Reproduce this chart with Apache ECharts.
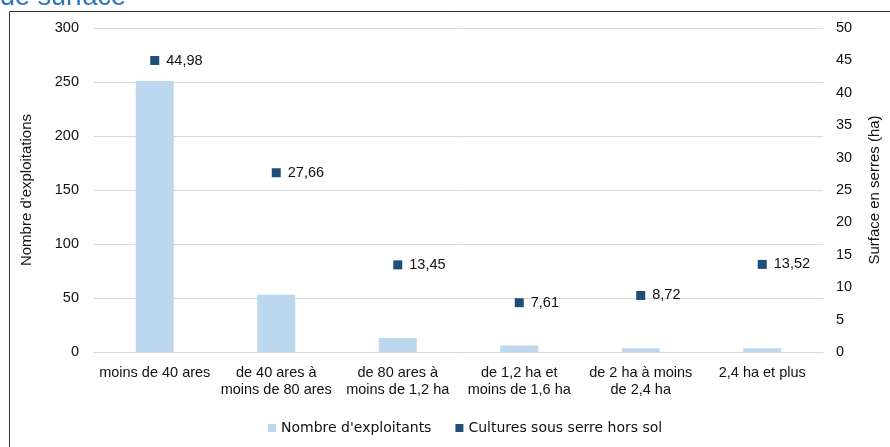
<!DOCTYPE html>
<html><head><meta charset="utf-8">
<script src="https://cdn.jsdelivr.net/npm/echarts@6/dist/echarts.min.js"></script>
<style>html,body{margin:0;padding:0;background:#fff;}#c{width:890px;height:447px;}</style>
</head><body><div id="c"></div>
<script>
const categories = ["moins de 40 ares","de 40 ares à\nmoins de 80 ares","de 80 ares à\nmoins de 1,2 ha","de 1,2 ha et\nmoins de 1,6 ha","de 2 ha à moins\nde 2,4 ha","2,4 ha et plus"];
const exploitants = [251, 53, 13, 6, 3.5, 3.5];
const surface = [44.98, 27.66, 13.45, 7.61, 8.72, 13.52];
const leftTicks = [0,50,100,150,200,250,300];
const rightTicks = [0,5,10,15,20,25,30,35,40,45,50];

const chart = echarts.init(document.getElementById('c'));
const font = 'Liberation Sans, Arial, sans-serif';
const txt = '#111';
chart.setOption({
  animation:false,
  textStyle:{fontFamily:font},
  graphic:[
    {type:'rect',shape:{x:9.5,y:11.5,width:900,height:460},style:{fill:'none',stroke:'#333',lineWidth:1}},
    {type:'text',left:0,top:-16,style:{text:'de surface',fill:'#2e75b6',font:'27px '+font}}
  ],
  grid:{left:94,right:65,top:28,bottom:95},
  legend:{bottom:7,left:263,itemWidth:8,itemHeight:8,itemGap:24,icon:'rect',
    textStyle:{fontSize:14,color:txt,fontFamily:'DejaVu Sans, sans-serif'},
    data:["Nombre d'exploitants","Cultures sous serre hors sol"]},
  xAxis:{type:'category',data:categories,
    axisLine:{lineStyle:{color:'#d9d9d9'}},axisTick:{show:false},
    axisLabel:{color:txt,fontSize:14.5,margin:12,interval:0,lineHeight:17}},
  yAxis:[
    {type:'value',min:0,max:leftTicks[leftTicks.length-1],interval:50,
     name:"Nombre d'exploitations",nameLocation:'middle',nameGap:60,
     nameTextStyle:{color:txt,fontSize:15},
     axisLabel:{color:txt,fontSize:14.5,margin:15},
     splitLine:{lineStyle:{color:'#d9d9d9'}},axisLine:{show:false},axisTick:{show:false}},
    {type:'value',min:0,max:rightTicks[rightTicks.length-1],interval:5,position:'right',
     name:'Surface en serres (ha)',nameLocation:'middle',nameGap:44,nameRotate:90,
     nameTextStyle:{color:txt,fontSize:15},
     axisLabel:{color:txt,fontSize:14.5,margin:13},
     splitLine:{show:false},axisLine:{show:false},axisTick:{show:false}}
  ],
  series:[
    {name:"Nombre d'exploitants",type:'bar',data:exploitants,barWidth:38,
     itemStyle:{color:'#bdd7ee'}},
    {name:'Cultures sous serre hors sol',type:'scatter',yAxisIndex:1,data:surface,
     symbol:'rect',symbolSize:9,itemStyle:{color:'#1f4e79',opacity:1},
     label:{show:true,position:'right',distance:7,color:txt,fontSize:14.5,
       formatter:p=>p.value.toFixed(2).replace('.',',')}}
  ]
});
</script></body></html>
